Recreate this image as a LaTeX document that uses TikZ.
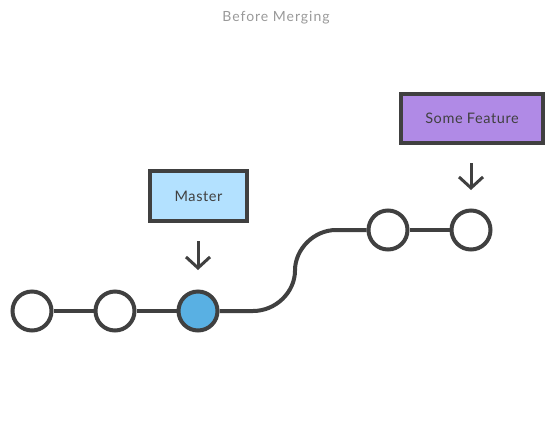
\documentclass[tikz,border=0pt]{standalone}
\usepackage{fontspec}
\setmainfont{Lato}
\usetikzlibrary{arrows.meta}
\definecolor{ink}{HTML}{404040}
\definecolor{masterfill}{HTML}{B3E1FF}
\definecolor{featfill}{HTML}{B08AE6}
\definecolor{headfill}{HTML}{59B0E3}
\definecolor{titlegray}{HTML}{999999}
\definecolor{labelink}{HTML}{404040}
\tikzset{
  commit/.style={circle, draw=ink, line width=4pt, fill=white, minimum size=39pt, inner sep=0pt},
  headcommit/.style={commit, fill=headfill},
  branch/.style={rectangle, draw=ink, line width=4pt, inner sep=0pt, text=labelink, font=\fontsize{14.5}{16}\selectfont\addfontfeatures{LetterSpace=4}},
  link/.style={draw=ink, line width=4pt},
  pointer/.style={draw=ink, line width=3pt, -{Straight Barb[length=11pt, width=24pt, line width=3pt]}},
}
\begin{document}
\begin{tikzpicture}[x=1pt, y=-1pt]
\useasboundingbox (0,0) rectangle (553,421);
\node[text=titlegray, font=\fontsize{14}{16}\selectfont\addfontfeatures{LetterSpace=7}] (title) at (276,18) {Before Merging};
\node[branch, fill=masterfill, minimum width=97pt, minimum height=50pt] (master) at (198.5,196) {Master};
\node[branch, fill=featfill, minimum width=142pt, minimum height=49pt] (feature) at (472,118.5) {Some Feature};
\node[commit] (c1) at (32,311) {};
\node[commit] (c2) at (115,311) {};
\node[headcommit] (c3) at (198,311) {};
\node[commit] (f1) at (388,230) {};
\node[commit] (f2) at (471,230) {};
\coordinate (ma) at (198,241);
\coordinate (mb) at (198,270);
\coordinate (fa) at (471,163);
\coordinate (fb) at (471,190);
\draw[link] (c1) -- (c2);
\draw[link] (c2) -- (c3);
\draw[link] (c3.east) -- (253,311) .. controls (276,311) and (295,292) .. (295,270.5) .. controls (295,249) and (314,230) .. (336,230) -- (f1.west);
\draw[link] (f1) -- (f2);
\draw[pointer] (ma) -- (mb);
\draw[pointer] (fa) -- (fb);
\end{tikzpicture}
\end{document}
